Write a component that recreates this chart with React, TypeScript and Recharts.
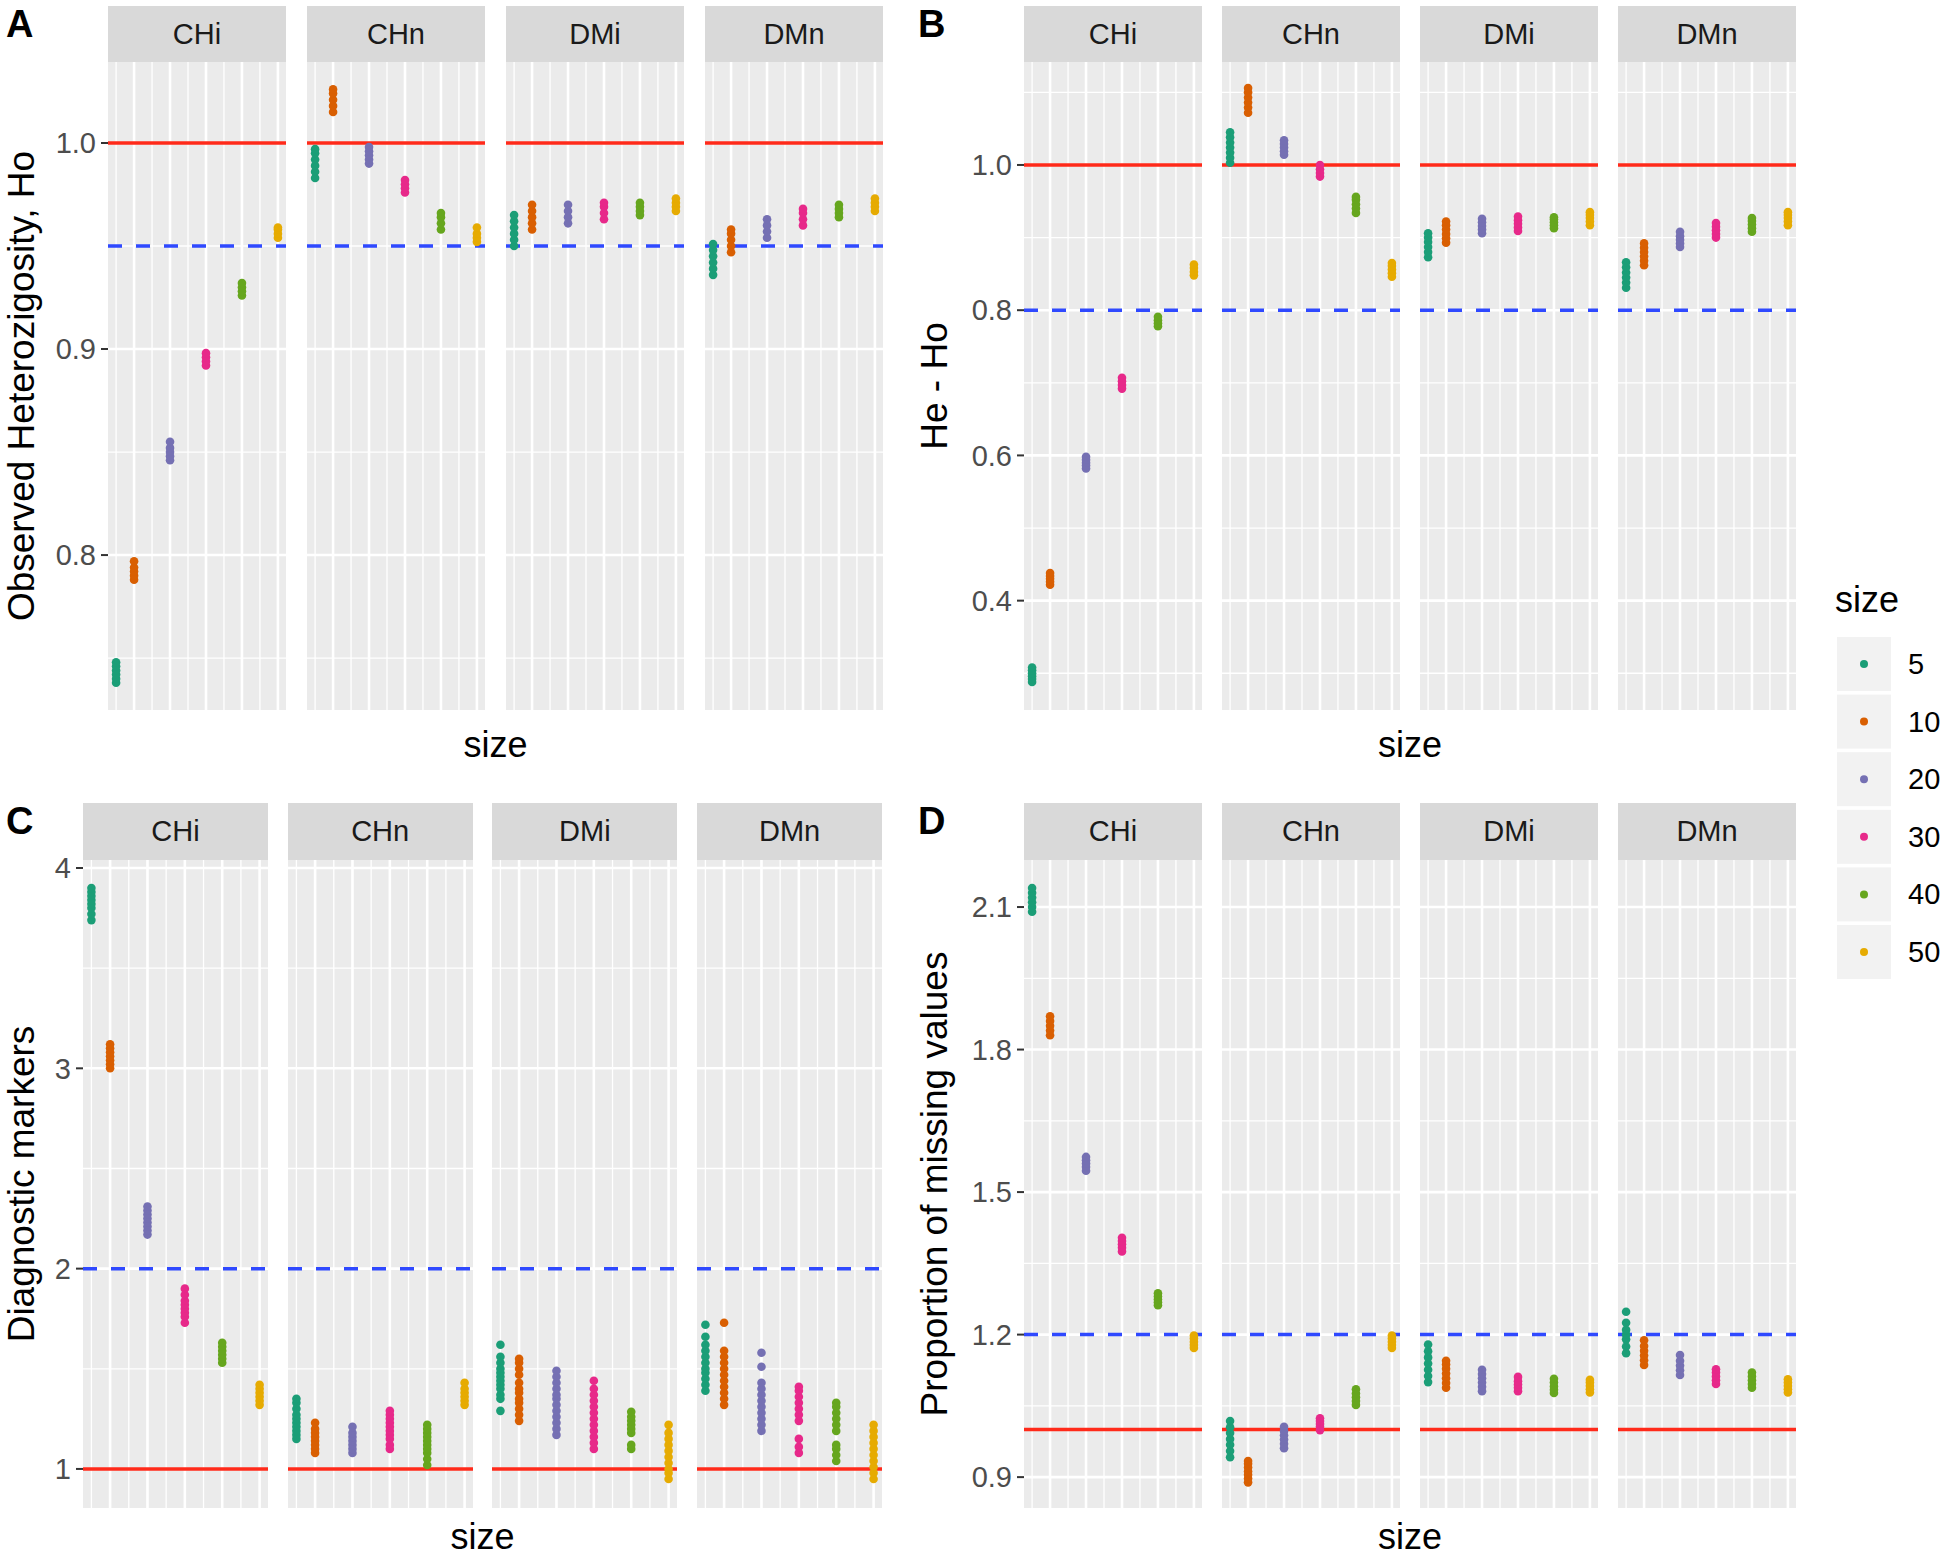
import React from 'react';
import { ScatterChart, Scatter, XAxis, YAxis, CartesianGrid, ReferenceLine } from 'recharts';

const FONT = '"Liberation Sans", Arial, Helvetica, sans-serif';

const sizes = [5, 10, 20, 30, 40, 50];
const sizeColors = ['#1B9E77', '#D95F02', '#7570B3', '#E7298A', '#66A61E', '#E6AB02'];
const facetNames = ['CHi', 'CHn', 'DMi', 'DMn'];
const xMajor = [10, 20, 30, 40, 50];
const xMinor = [5, 15, 25, 35, 45];

// A: observed heterozygosity (one inner list per size)
const hoCHi = [
  [0.738, 0.740, 0.742, 0.744, 0.746, 0.748],
  [0.788, 0.790, 0.792, 0.794, 0.797],
  [0.846, 0.848, 0.850, 0.852, 0.855],
  [0.892, 0.894, 0.896, 0.898],
  [0.926, 0.928, 0.930, 0.932],
  [0.954, 0.956, 0.958, 0.959],
];
const hoCHn = [
  [0.983, 0.986, 0.989, 0.992, 0.995, 0.997],
  [1.015, 1.018, 1.021, 1.024, 1.026],
  [0.990, 0.992, 0.994, 0.996, 0.998],
  [0.976, 0.978, 0.980, 0.982],
  [0.958, 0.961, 0.964, 0.966],
  [0.952, 0.954, 0.956, 0.959],
];
const hoDMi = [
  [0.950, 0.953, 0.956, 0.959, 0.962, 0.965],
  [0.958, 0.961, 0.964, 0.967, 0.970],
  [0.961, 0.964, 0.967, 0.970],
  [0.963, 0.966, 0.969, 0.971],
  [0.965, 0.967, 0.969, 0.971],
  [0.967, 0.969, 0.971, 0.973],
];
const hoDMn = [
  [0.936, 0.939, 0.942, 0.945, 0.948, 0.951],
  [0.947, 0.950, 0.953, 0.956, 0.958],
  [0.954, 0.957, 0.960, 0.963],
  [0.960, 0.963, 0.966, 0.968],
  [0.964, 0.966, 0.968, 0.970],
  [0.967, 0.969, 0.971, 0.973],
];
const aTicks = [0.8, 0.9, 1.0];
const aMinor = [0.75, 0.85, 0.95];

// B: He - Ho
const heCHi = [
  [0.288, 0.292, 0.296, 0.300, 0.304, 0.308],
  [0.422, 0.426, 0.430, 0.434, 0.438],
  [0.582, 0.586, 0.590, 0.594, 0.598],
  [0.692, 0.697, 0.702, 0.707],
  [0.778, 0.782, 0.786, 0.791],
  [0.848, 0.853, 0.858, 0.863],
];
const heCHn = [
  [1.003, 1.010, 1.017, 1.024, 1.031, 1.038, 1.045],
  [1.072, 1.079, 1.086, 1.093, 1.100, 1.106],
  [1.014, 1.019, 1.024, 1.029, 1.034],
  [0.984, 0.989, 0.994, 1.000],
  [0.934, 0.940, 0.946, 0.952, 0.956],
  [0.846, 0.851, 0.856, 0.861, 0.865],
];
const heDMi = [
  [0.873, 0.880, 0.887, 0.894, 0.900, 0.906],
  [0.893, 0.899, 0.905, 0.911, 0.917, 0.922],
  [0.906, 0.911, 0.916, 0.921, 0.926],
  [0.909, 0.914, 0.919, 0.924, 0.929],
  [0.913, 0.917, 0.921, 0.925, 0.928],
  [0.917, 0.922, 0.927, 0.931, 0.935],
];
const heDMn = [
  [0.831, 0.838, 0.845, 0.852, 0.859, 0.866],
  [0.862, 0.868, 0.874, 0.880, 0.886, 0.892],
  [0.887, 0.892, 0.897, 0.902, 0.908],
  [0.900, 0.905, 0.910, 0.915, 0.920],
  [0.908, 0.913, 0.918, 0.923, 0.927],
  [0.917, 0.922, 0.927, 0.931, 0.935],
];
const bTicks = [0.4, 0.6, 0.8, 1.0];
const bMinor = [0.3, 0.5, 0.7, 0.9, 1.1];

// C: diagnostic markers
const dmCHi = [
  [3.74, 3.77, 3.80, 3.82, 3.84, 3.86, 3.88, 3.90],
  [3.00, 3.02, 3.04, 3.06, 3.08, 3.10, 3.12],
  [2.17, 2.19, 2.21, 2.23, 2.25, 2.27, 2.29, 2.31],
  [1.73, 1.76, 1.78, 1.80, 1.82, 1.84, 1.87, 1.90],
  [1.53, 1.55, 1.57, 1.59, 1.61, 1.63],
  [1.32, 1.34, 1.36, 1.38, 1.40, 1.42],
];
const dmCHn = [
  [1.15, 1.17, 1.19, 1.21, 1.23, 1.25, 1.27, 1.30, 1.33, 1.35],
  [1.08, 1.10, 1.12, 1.14, 1.16, 1.18, 1.20, 1.23],
  [1.08, 1.10, 1.12, 1.14, 1.16, 1.18, 1.21],
  [1.10, 1.12, 1.15, 1.17, 1.19, 1.21, 1.23, 1.25, 1.27, 1.29],
  [1.02, 1.05, 1.08, 1.10, 1.12, 1.14, 1.16, 1.18, 1.20, 1.22],
  [1.32, 1.34, 1.36, 1.38, 1.40, 1.43],
];
const dmDMi = [
  [1.29, 1.35, 1.37, 1.40, 1.42, 1.44, 1.46, 1.48, 1.50, 1.53, 1.56, 1.62],
  [1.24, 1.27, 1.30, 1.33, 1.35, 1.38, 1.40, 1.43, 1.47, 1.50, 1.53, 1.55],
  [1.17, 1.20, 1.23, 1.26, 1.29, 1.32, 1.35, 1.37, 1.40, 1.43, 1.46, 1.49],
  [1.10, 1.13, 1.16, 1.19, 1.22, 1.25, 1.28, 1.31, 1.34, 1.37, 1.40, 1.44],
  [1.10, 1.12, 1.18, 1.20, 1.22, 1.24, 1.26, 1.285],
  [0.95, 0.98, 1.00, 1.03, 1.06, 1.09, 1.12, 1.15, 1.18, 1.22],
];
const dmDMn = [
  [1.39, 1.42, 1.45, 1.48, 1.50, 1.53, 1.56, 1.59, 1.62, 1.66, 1.72],
  [1.32, 1.35, 1.38, 1.41, 1.44, 1.47, 1.50, 1.53, 1.56, 1.59, 1.73],
  [1.19, 1.22, 1.25, 1.28, 1.31, 1.34, 1.37, 1.40, 1.43, 1.51, 1.58],
  [1.08, 1.11, 1.15, 1.24, 1.27, 1.30, 1.33, 1.36, 1.39, 1.41],
  [1.04, 1.07, 1.10, 1.12, 1.19, 1.22, 1.25, 1.28, 1.31, 1.33],
  [0.95, 0.98, 1.01, 1.04, 1.07, 1.10, 1.13, 1.16, 1.19, 1.22],
];
const cTicks = [1, 2, 3, 4];
const cMinor = [1.5, 2.5, 3.5];

// D: proportion of missing values
const mvCHi = [
  [2.09, 2.10, 2.11, 2.12, 2.13, 2.14],
  [1.83, 1.84, 1.85, 1.86, 1.87],
  [1.545, 1.553, 1.560, 1.567, 1.574],
  [1.375, 1.383, 1.390, 1.397, 1.404],
  [1.262, 1.268, 1.274, 1.280, 1.287],
  [1.172, 1.178, 1.185, 1.192, 1.198],
];
const mvCHn = [
  [0.942, 0.955, 0.968, 0.980, 0.993, 1.005, 1.018],
  [0.889, 0.897, 0.905, 0.912, 0.920, 0.928, 0.934],
  [0.961, 0.970, 0.979, 0.988, 0.997, 1.006],
  [0.999, 1.006, 1.012, 1.018, 1.024],
  [1.052, 1.060, 1.068, 1.076, 1.085],
  [1.172, 1.178, 1.185, 1.192, 1.198],
];
const mvDMi = [
  [1.100, 1.113, 1.126, 1.139, 1.152, 1.165, 1.179],
  [1.088, 1.098, 1.108, 1.118, 1.128, 1.137, 1.145],
  [1.081, 1.090, 1.099, 1.108, 1.117, 1.126],
  [1.081, 1.088, 1.095, 1.102, 1.111],
  [1.077, 1.084, 1.091, 1.099, 1.107],
  [1.078, 1.085, 1.092, 1.099, 1.105],
];
const mvDMn = [
  [1.161, 1.175, 1.190, 1.200, 1.210, 1.225, 1.248],
  [1.136, 1.146, 1.156, 1.166, 1.176, 1.188],
  [1.115, 1.125, 1.135, 1.145, 1.157],
  [1.096, 1.104, 1.112, 1.120, 1.127],
  [1.088, 1.096, 1.104, 1.112, 1.120],
  [1.078, 1.085, 1.092, 1.099, 1.106],
];
const dTicks = [0.9, 1.2, 1.5, 1.8, 2.1];
const dMinor = [1.05, 1.35, 1.65, 1.95];

const xDomain = [2.75, 52.25];
const PAD = 20; // room above/below the panel so edge labels and dots are not clipped

const panels = [
  {
    letter: 'A', title: 'Observed Heterozigosity, Ho',
    values: [hoCHi, hoCHn, hoDMi, hoDMn], domain: [0.7248, 1.0393],
    ticks: aTicks, minor: aMinor, red: 1.0, blue: 0.95, fmt: (v: number) => v.toFixed(1),
    left: 108, pitch: 199, facetW: 178, stripTop: 6, plotTop: 62, plotH: 648, axisW: 62,
    letterX: 6, titleX: 34, sizeDy: 47,
  },
  {
    letter: 'B', title: 'He - Ho',
    values: [heCHi, heCHn, heDMi, heDMn], domain: [0.2494, 1.1418],
    ticks: bTicks, minor: bMinor, red: 1.0, blue: 0.8, fmt: (v: number) => v.toFixed(1),
    left: 1024, pitch: 198, facetW: 178, stripTop: 6, plotTop: 62, plotH: 648, axisW: 62,
    letterX: 918, titleX: 947, sizeDy: 47,
  },
  {
    letter: 'C', title: 'Diagnostic markers',
    values: [dmCHi, dmCHn, dmDMi, dmDMn], domain: [0.805, 4.04],
    ticks: cTicks, minor: cMinor, red: 1, blue: 2, fmt: (v: number) => String(v),
    left: 83, pitch: 204.7, facetW: 185, stripTop: 803, plotTop: 860, plotH: 648, axisW: 40,
    letterX: 6, titleX: 34, sizeDy: 41,
  },
  {
    letter: 'D', title: 'Proportion of missing values',
    values: [mvCHi, mvCHn, mvDMi, mvDMn], domain: [0.835, 2.199],
    ticks: dTicks, minor: dMinor, red: 1.0, blue: 1.2, fmt: (v: number) => v.toFixed(1),
    left: 1024, pitch: 198, facetW: 178, stripTop: 803, plotTop: 860, plotH: 648, axisW: 62,
    letterX: 918, titleX: 947, sizeDy: 41,
  },
];

type Panel = typeof panels[number];

function Facet({ p, idx }: { p: Panel; idx: number }) {
  const showAxis = idx === 0;
  const axisW = showAxis ? p.axisW : 0;
  const x0 = p.left + idx * p.pitch;
  const series = p.values[idx];
  return (
    <>
      <div
        style={{
          position: 'absolute', left: x0, top: p.stripTop, width: p.facetW, height: p.plotTop - p.stripTop,
          background: '#D9D9D9', color: '#1A1A1A', fontFamily: FONT, fontSize: 29,
          display: 'flex', alignItems: 'center', justifyContent: 'center',
        }}
      >
        {facetNames[idx]}
      </div>
      <div style={{ position: 'absolute', left: x0 - axisW, top: p.plotTop - PAD }}>
        <ScatterChart width={p.facetW + axisW} height={p.plotH + 2 * PAD} margin={{ top: PAD, right: 0, bottom: PAD, left: 0 }}>
          <CartesianGrid vertical={false} horizontalValues={p.minor} stroke="#FFFFFF" strokeWidth={1.3} fill="#EBEBEB" fillOpacity={1} />
          <CartesianGrid horizontal={false} verticalValues={xMinor} stroke="#FFFFFF" strokeWidth={1.3} />
          <CartesianGrid vertical={false} horizontalValues={p.ticks} stroke="#FFFFFF" strokeWidth={2.6} />
          <CartesianGrid horizontal={false} verticalValues={xMajor} stroke="#FFFFFF" strokeWidth={2.6} />
          <XAxis type="number" dataKey="x" domain={xDomain} hide allowDataOverflow />
          <YAxis
            type="number" dataKey="y" domain={p.domain} ticks={p.ticks} hide={!showAxis} width={axisW}
            allowDataOverflow interval={0} tickFormatter={p.fmt}
            tick={{ fontSize: 29, fill: '#4D4D4D', fontFamily: FONT }}
            tickLine={{ stroke: '#333333', strokeWidth: 2 }} tickSize={7} tickMargin={5} axisLine={false}
          />
          <ReferenceLine y={p.red} stroke="#FF2A1A" strokeWidth={3.5} />
          <ReferenceLine y={p.blue} stroke="#2F49FF" strokeWidth={3.5} strokeDasharray="14 14" />
          {sizes.map((s, i) => (
            <Scatter
              key={s}
              name={String(s)}
              data={series[i].map((v) => ({ x: s, y: v }))}
              fill={sizeColors[i]}
              isAnimationActive={false}
              shape={(sp: any) => <circle cx={sp.cx} cy={sp.cy} r={4.3} fill={sizeColors[i]} />}
            />
          ))}
        </ScatterChart>
      </div>
    </>
  );
}

export default function App() {
  return (
    <div style={{ position: 'absolute', left: 0, top: 0, width: 1946, height: 1557, background: '#FFFFFF', overflow: 'hidden' }}>
      {panels.map((p) => facetNames.map((_, idx) => <Facet key={p.letter + idx} p={p} idx={idx} />))}
      <svg width={1946} height={1557} style={{ position: 'absolute', left: 0, top: 0, pointerEvents: 'none' }}>
        {panels.map((p) => {
          const midX = p.left + (3 * p.pitch + p.facetW) / 2;
          const midY = p.plotTop + p.plotH / 2;
          return (
            <g key={p.letter} fontFamily={FONT}>
              <text x={p.letterX} y={p.stripTop + 31} fontSize={38} fontWeight="bold" fill="#000000">{p.letter}</text>
              <text transform={`translate(${p.titleX},${midY}) rotate(-90)`} textAnchor="middle" fontSize={37} fill="#000000">{p.title}</text>
              <text x={midX} y={p.plotTop + p.plotH + p.sizeDy} textAnchor="middle" fontSize={36} fill="#000000">size</text>
            </g>
          );
        })}
        <g fontFamily={FONT}>
          <text x={1835} y={612} fontSize={36} fill="#000000">size</text>
          {sizes.map((s, i) => {
            const y = 637 + i * 57.6;
            return (
              <g key={s}>
                <rect x={1837} y={y} width={54} height={54} fill="#F2F2F2" />
                <circle cx={1864} cy={y + 27} r={4} fill={sizeColors[i]} />
                <text x={1908} y={y + 37} fontSize={29} fill="#000000">{s}</text>
              </g>
            );
          })}
        </g>
      </svg>
    </div>
  );
}
